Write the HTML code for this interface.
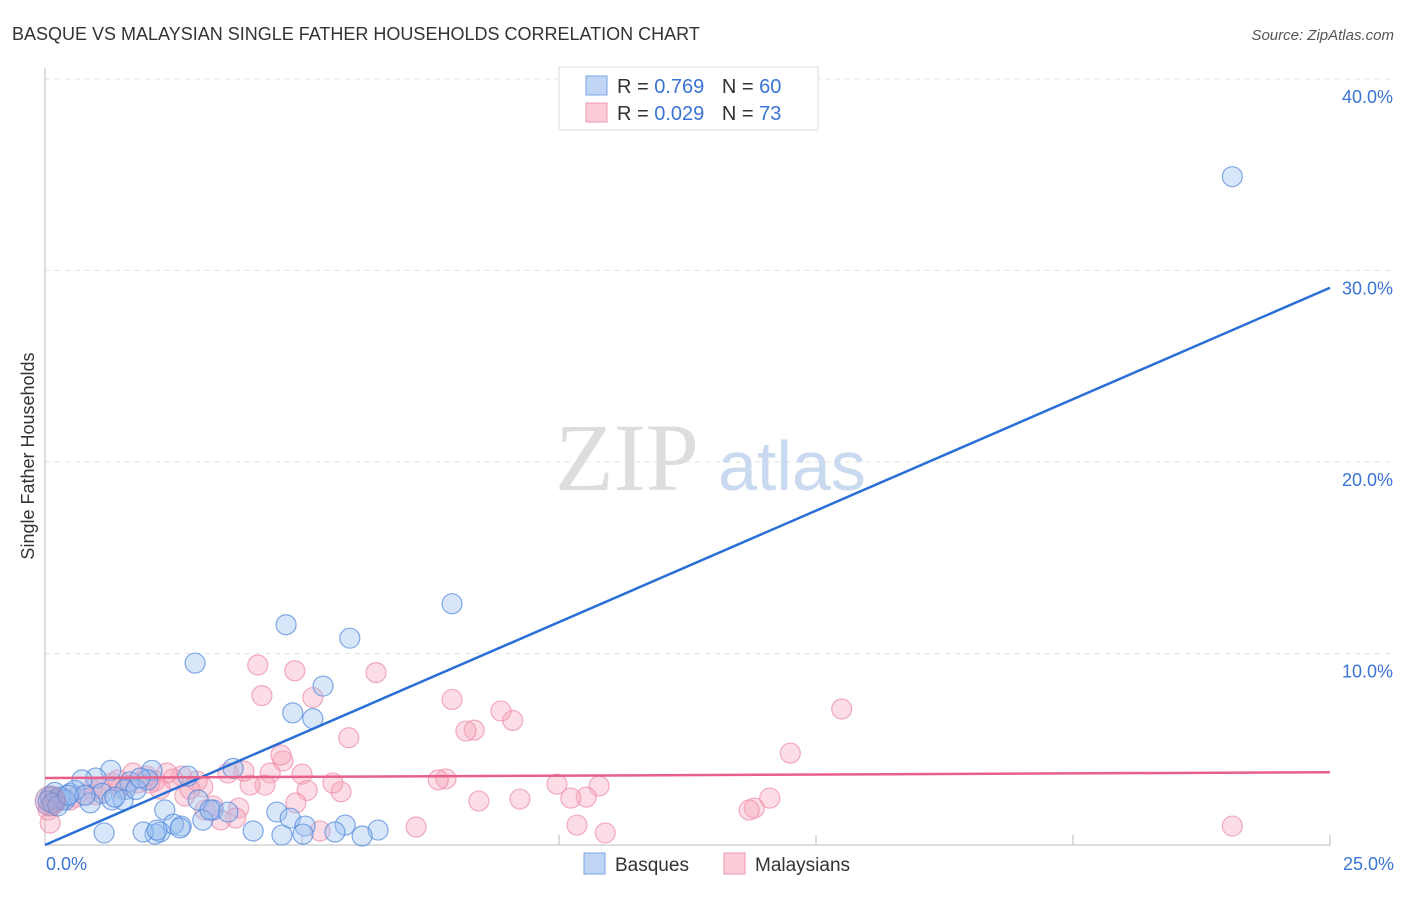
<!DOCTYPE html>
<html><head><meta charset="utf-8"><style>
body{margin:0;background:#fff;font-family:"Liberation Sans",sans-serif}
</style></head><body>
<svg width="1406" height="892" xmlns="http://www.w3.org/2000/svg" font-family="Liberation Sans, sans-serif">
<text x="12" y="40" font-size="18" fill="#333">BASQUE VS MALAYSIAN SINGLE FATHER HOUSEHOLDS CORRELATION CHART</text>
<text x="1394" y="40" font-size="15" fill="#555" text-anchor="end" font-style="italic">Source: ZipAtlas.com</text>
<g id="grid"></g>
<text x="555" y="490" font-size="96" fill="#ddd" font-family="Liberation Serif, serif">ZIP</text>
<text x="718" y="490" font-size="70" fill="#c9d9f0">atlas</text>
<g id="pts"></g>
<g id="lines"></g>
<text x="34" y="456" font-size="18" fill="#333" text-anchor="middle" transform="rotate(-90 34 456)">Single Father Households</text>
<text x="46" y="870" font-size="18" fill="#3a74d4">0.0%</text>
<text x="1394" y="870" font-size="18" fill="#3a74d4" text-anchor="end">25.0%</text>
<g>
<rect x="559" y="67" width="259" height="63" fill="#fff" stroke="#ddd"/>
<rect x="586" y="76" width="21" height="19" fill="#c0d5f5" stroke="#7aa5e6"/>
<rect x="586" y="103" width="21" height="19" fill="#fbcbd8" stroke="#ee9ab2"/>
<text x="617" y="93" font-size="20" fill="#333">R = <tspan fill="#3a74d4">0.769</tspan>  <tspan dx="12">N = </tspan><tspan fill="#3a74d4">60</tspan></text>
<text x="617" y="120" font-size="20" fill="#333">R = <tspan fill="#3a74d4">0.029</tspan>  <tspan dx="12">N = </tspan><tspan fill="#3a74d4"> 73</tspan></text>
</g>
<g>
<rect x="584" y="853" width="21" height="21" fill="#c0d5f5" stroke="#7aa5e6"/>
<text x="615" y="871" font-size="19" fill="#333">Basques</text>
<rect x="724" y="853" width="21" height="21" fill="#fbcbd8" stroke="#ee9ab2"/>
<text x="755" y="871" font-size="19" fill="#333">Malaysians</text>
</g>
</svg>
<script>
const yTicks=[10,20,30,40];
const yTickLabels=["10.0%","20.0%","30.0%","40.0%"];
const xTicks=[0,5,10,15,20,25];
const basques=[[23.1,34.9],[7.92,12.6],[4.69,11.5],[5.93,10.8],[2.92,9.5],[5.41,8.3],[4.82,6.9],[5.21,6.6],[3.66,4.0],[2.78,3.6],[2.08,3.9],[1.28,3.9],[0.99,3.5],[0.72,3.4],[1.65,3.3],[2.0,3.4],[1.56,2.9],[1.11,2.7],[1.3,2.35],[0.88,2.2],[0.33,2.35],[0.1,2.5],[0.19,2.75],[0.49,2.7],[0.58,2.85],[1.52,2.35],[1.77,2.9],[2.98,2.35],[2.33,1.83],[3.27,1.83],[3.56,1.72],[3.07,1.3],[4.51,1.72],[4.77,1.4],[5.06,0.99],[5.84,1.04],[6.48,0.78],[5.64,0.68],[5.02,0.57],[4.05,0.73],[4.61,0.52],[2.24,0.68],[2.14,0.57],[1.91,0.68],[1.15,0.63],[2.65,0.99],[2.5,1.09],[3.21,1.83],[0.29,2.5],[0.39,2.35],[0.78,2.6],[1.36,2.5],[1.85,3.5],[2.63,0.89],[6.17,0.47],[2.18,0.78],[0.06,2.3],[0.14,2.2],[0.25,2.04],[0.45,2.6]];
const malaysians=[[23.1,0.99],[15.5,7.1],[14.5,4.8],[14.1,2.45],[13.8,1.93],[13.7,1.83],[10.9,0.63],[10.35,1.04],[10.78,3.08],[10.53,2.5],[10.23,2.45],[9.96,3.18],[9.24,2.4],[8.44,2.3],[9.1,6.5],[8.87,7.0],[8.35,6.0],[8.19,5.95],[7.92,7.6],[7.8,3.45],[7.65,3.4],[7.22,0.94],[6.44,9.0],[5.91,5.6],[5.76,2.78],[5.6,3.24],[5.35,0.73],[5.21,7.7],[5.0,3.7],[5.1,2.85],[4.86,9.1],[4.88,2.2],[4.63,4.39],[4.59,4.7],[4.38,3.76],[4.28,3.13],[4.22,7.8],[4.14,9.4],[3.99,3.13],[3.87,3.86],[3.77,1.93],[3.71,1.41],[3.56,3.76],[3.42,1.31],[3.27,2.04],[3.07,3.03],[2.96,3.34],[2.72,2.56],[2.66,3.6],[2.49,3.45],[2.37,3.76],[2.14,3.34],[1.98,3.6],[1.71,3.76],[1.61,3.13],[1.46,2.97],[1.3,3.24],[0.99,2.61],[0.78,2.61],[0.6,2.5],[0.49,2.35],[0.35,2.45],[0.21,2.35],[0.06,1.83],[0.1,1.15],[2.04,3.24],[2.82,2.92],[2.24,2.92],[1.07,2.92],[0.91,2.92],[1.42,3.4],[1.81,3.24],[3.11,1.83]];
const blueLine=[[0,0],[25,29.1]];
const pinkLine=[[0,3.5],[25,3.8]];
const X=v=>45+v*51.4, Y=v=>845-v*19.15;
const ns="http://www.w3.org/2000/svg";
const grid=document.getElementById('grid');
function mk(t,a,p){const e=document.createElementNS(ns,t);for(const k in a)e.setAttribute(k,a[k]);p.appendChild(e);return e;}
yTicks.forEach((t,i)=>{
 const l=mk('line',{x1:45,x2:1394,y1:Y(t),y2:Y(t),stroke:'#e2e2e2','stroke-dasharray':'5,5'},grid);
 
 
 const tx=mk('text',{x:1393,y:Y(t)+24,'font-size':18,fill:'#3a74d4','text-anchor':'end'},grid);
 tx.textContent=yTickLabels[i];
 
 
});
xTicks.forEach(t=>{
 const l=mk('line',{x1:X(t),x2:X(t),y1:835,y2:845,stroke:'#bbb'},grid);
 
 
});
const ax=mk('line',{x1:45,x2:1330,y1:845,y2:845,stroke:'#bbb'},grid);


const ay=mk('line',{x1:45,x2:45,y1:68,y2:845,stroke:'#bbb'},grid);


const pts=document.getElementById('pts');
function dots(arr,fill,stroke,name){arr.forEach(d=>{
 const c=mk('circle',{cx:X(d[0]),cy:Y(d[1]),r:10,fill:fill,'fill-opacity':0.4,stroke:stroke,'stroke-opacity':0.7,'stroke-width':1.2},pts);
 
 
});}
dots(malaysians,'#f7a8bf','#ec8aa8','malaysian-point');
dots(basques,'#9cc0f0','#4e86dc','basque-point');
const big=mk('circle',{cx:X(0.1),cy:Y(2.3),r:15,fill:'#b08ab8','fill-opacity':0.45,stroke:'#a07aa8','stroke-opacity':0.6},pts);


const lines=document.getElementById('lines');
const bl=mk('line',{x1:X(blueLine[0][0]),y1:Y(blueLine[0][1]),x2:X(blueLine[1][0]),y2:Y(blueLine[1][1]),stroke:'#2a6fd6','stroke-width':2.5},lines);


const pl=mk('line',{x1:X(pinkLine[0][0]),y1:Y(pinkLine[0][1]),x2:X(pinkLine[1][0]),y2:Y(pinkLine[1][1]),stroke:'#e8608a','stroke-width':2.5},lines);


</script>
</body></html>
